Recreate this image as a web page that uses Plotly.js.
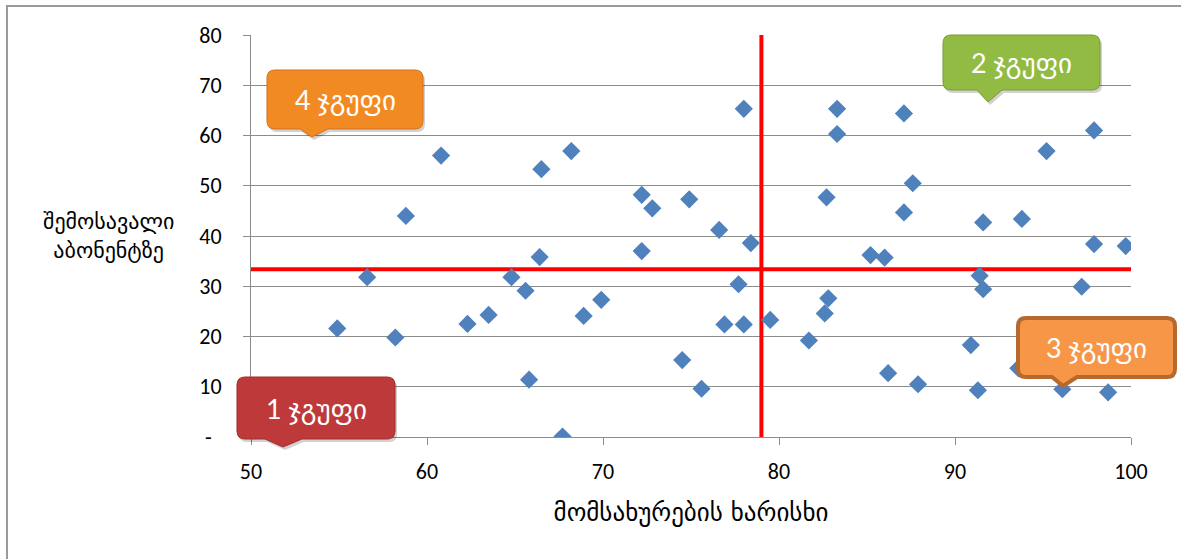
<!DOCTYPE html>
<html><head><meta charset="utf-8">
<script src="https://cdn.plot.ly/plotly-3.0.1.min.js"></script>
<style>html,body{margin:0;padding:0;background:#fff}#chart{width:1181px;height:559px}</style>
</head><body><div id="chart"></div><script>
// ---- data ----
const serviceQuality = [54.9, 56.6, 58.2, 58.8, 60.8, 62.3, 63.5, 64.8, 65.6, 65.8, 66.4, 66.5, 67.7, 68.2, 68.9, 69.9, 72.2, 72.2, 72.8, 74.5, 74.9, 75.6, 76.6, 76.9, 77.7, 78.0, 78.0, 78.4, 79.5, 81.7, 82.6, 82.7, 82.8, 83.3, 83.3, 85.2, 86.0, 86.2, 87.1, 87.1, 87.6, 87.9, 90.9, 91.3, 91.4, 91.6, 91.6, 93.8, 93.6, 95.2, 96.1, 97.2, 97.9, 97.9, 98.7, 99.7];
const incomePerSubscriber = [21.6, 31.8, 19.8, 44.0, 56.0, 22.5, 24.3, 31.8, 29.1, 11.4, 35.8, 53.3, 0.1, 56.9, 24.1, 27.3, 48.2, 37.0, 45.5, 15.3, 47.3, 9.6, 41.2, 22.4, 30.4, 65.3, 22.4, 38.6, 23.3, 19.2, 24.6, 47.7, 27.6, 65.3, 60.3, 36.2, 35.7, 12.7, 64.4, 44.7, 50.5, 10.5, 18.3, 9.3, 32.1, 29.4, 42.7, 43.4, 13.7, 56.9, 9.5, 29.9, 61.0, 38.4, 8.9, 38.0];
const qualityThreshold = 79.0;
const incomeThreshold = 33.4;
const xRange = [50, 100];
const yRange = [0, 80];
const xTickVals = [50, 60, 70, 80, 90, 100];
const yTickVals = [0, 10, 20, 30, 40, 50, 60, 70, 80];
const yTickText = ['-\u00a0\u00a0', '10', '20', '30', '40', '50', '60', '70', '80'];
const xTitle = 'მომსახურების ხარისხი';
const yTitle = 'შემოსავალი<br>აბონენტზე';
const groupLabels = ['1 ჯგუფი', '2 ჯგუფი', '3 ჯგუფი', '4 ჯგუფი'];

// ---- layout helpers (pixel -> paper) ----
const M = {l: 251, r: 50, t: 35, b: 122};
const W = 1181, H = 559;
const PW = W - M.l - M.r, PH = H - M.t - M.b;
const px = x => (x - M.l) / PW;
const py = y => (H - M.b - y) / PH;
function callout(b, r, dx, dy) {
  dx = dx || 0; dy = dy || 0;
  const P = (x, y) => px(x + dx).toFixed(5) + ',' + py(y + dy).toFixed(5);
  const [x0, y0, x1, y1, bx0, bx1, tx, ty] = b;
  return 'M' + P(x0 + r, y0) + ' L' + P(x1 - r, y0) + ' Q' + P(x1, y0) + ' ' + P(x1, y0 + r) +
    ' L' + P(x1, y1 - r) + ' Q' + P(x1, y1) + ' ' + P(x1 - r, y1) +
    ' L' + P(bx1, y1) + ' L' + P(tx, ty) + ' L' + P(bx0, y1) +
    ' L' + P(x0 + r, y1) + ' Q' + P(x0, y1) + ' ' + P(x0, y1 - r) +
    ' L' + P(x0, y0 + r) + ' Q' + P(x0, y0) + ' ' + P(x0 + r, y0) + ' Z';
}
const boxes = [
  {b: [237, 377, 395, 439, 265, 302, 283, 447], fill: '#BE3A3A', line: '#A02C2C', lw: 1, shadow: true},
  {b: [943, 35, 1100, 90, 977, 1002, 988, 102], fill: '#92BB43', line: '#7A9C34', lw: 1, shadow: true},
  {b: [1018, 318, 1175, 377, 1052, 1077, 1063, 386], fill: '#F79646', line: '#B5692E', lw: 4, shadow: false},
  {b: [267, 70, 423, 129, 300, 328, 312, 137], fill: '#F28A24', line: '#CF721D', lw: 1, shadow: true}
];
const shapes = [
  {type: 'line', xref: 'paper', yref: 'paper', x0: px(6), x1: px(1181), y0: py(6), y1: py(6), line: {color: '#9a9a9a', width: 2}},
  {type: 'line', xref: 'paper', yref: 'paper', x0: px(7), x1: px(7), y0: py(5), y1: py(559), line: {color: '#9a9a9a', width: 2}}
];
const annotations = [];
boxes.forEach((bx, i) => {
  if (bx.shadow) shapes.push({type: 'path', xref: 'paper', yref: 'paper', layer: 'above', path: callout(bx.b, 8, 2, 3), fillcolor: 'rgba(0,0,0,0.18)', line: {width: 0}});
  shapes.push({type: 'path', xref: 'paper', yref: 'paper', layer: 'above', path: callout(bx.b, 8), fillcolor: bx.fill, line: {color: bx.line, width: bx.lw}});
  annotations.push({xref: 'paper', yref: 'paper', x: px((bx.b[0] + bx.b[2]) / 2), y: py((bx.b[1] + bx.b[3]) / 2), xanchor: 'center', yanchor: 'middle', showarrow: false, text: groupLabels[i], font: {color: '#ffffff', size: 27, family: 'Lato, "DejaVu Sans", sans-serif'}});
});
annotations.push({xref: 'paper', yref: 'paper', x: px(108), y: py(236), xanchor: 'center', yanchor: 'middle', showarrow: false, text: yTitle, font: {color: '#000', size: 22, family: '"DejaVu Sans", sans-serif'}});

const tickFont = {family: 'Calibri, Carlito, Lato, "Liberation Sans", sans-serif', size: 22, color: '#000'};
const traces = [
  {type: 'scatter', mode: 'lines', x: [qualityThreshold, qualityThreshold], y: yRange, line: {color: '#FF0000', width: 4}, hoverinfo: 'skip'},
  {type: 'scatter', mode: 'lines', x: xRange, y: [incomeThreshold, incomeThreshold], line: {color: '#FF0000', width: 4}, hoverinfo: 'skip'},
  {type: 'scatter', mode: 'markers', x: serviceQuality, y: incomePerSubscriber, marker: {symbol: 'diamond', size: 14, color: '#4F81BD'}}
];
const layout = {
  width: W, height: H, margin: M, showlegend: false,
  paper_bgcolor: '#fff', plot_bgcolor: '#fff',
  xaxis: {range: xRange, tickvals: xTickVals, ticks: 'outside', ticklen: 7, tickcolor: '#8c8c8c', showline: true, linecolor: '#8c8c8c', linewidth: 1, showgrid: false, zeroline: false, tickfont: tickFont, ticklabelstandoff: 8,
    title: {text: xTitle, standoff: 19, font: {family: '"DejaVu Sans", sans-serif', size: 25, color: '#000'}}, automargin: false},
  yaxis: {range: yRange, tickvals: yTickVals, ticktext: yTickText, ticks: 'outside', ticklen: 7, tickcolor: '#8c8c8c', showline: true, linecolor: '#8c8c8c', linewidth: 1, showgrid: true, gridcolor: '#8c8c8c', gridwidth: 1, zeroline: false, tickfont: tickFont, ticklabelstandoff: 17, automargin: false},
  shapes: shapes, annotations: annotations
};
Plotly.newPlot('chart', traces, layout, {displayModeBar: false, staticPlot: true});
</script></body></html>
